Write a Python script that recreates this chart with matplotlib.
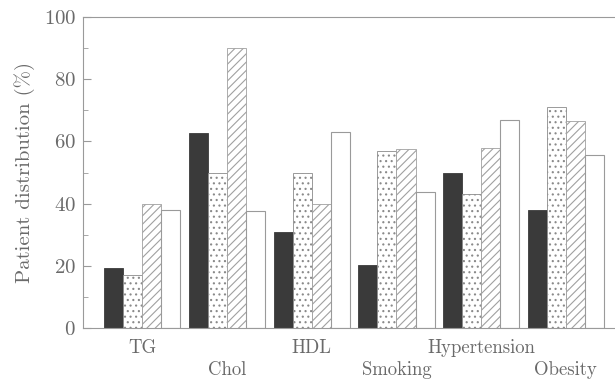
import numpy as np
import matplotlib.pyplot as plt
from matplotlib.ticker import MultipleLocator

plt.rcParams['font.family'] = ['cmr10', 'DejaVu Serif']
plt.rcParams['axes.formatter.use_mathtext'] = True
plt.rcParams['hatch.linewidth'] = 0.8

# categories and series values (% of patients)
categories = ['TG', 'Chol', 'HDL', 'Smoking', 'Hypertension', 'Obesity']
solid = [19.3, 62.8, 31, 20.3, 50, 38]
dotted = [17, 50, 50, 57, 43, 71]
hatched = [40, 90, 40, 57.7, 58, 66.5]
empty = [38, 37.6, 63, 43.8, 67, 55.6]

text_col = '#6a6a6a'
line_col = '#9a9a9a'

fig = plt.figure(figsize=(6.15, 3.8), dpi=100)
ax = fig.add_axes([0.135, 0.137, 0.865, 0.818])

x = np.arange(len(categories))
w = 0.225
offs = np.array([-1.5, -0.5, 0.5, 1.5]) * w

ax.bar(x + offs[0], solid, w, color='#3a3a3a', edgecolor='#3a3a3a', linewidth=0.6)
ax.bar(x + offs[1], dotted, w, color='white', edgecolor='#8a8a8a', hatch='...', linewidth=0.6)
ax.bar(x + offs[2], hatched, w, color='white', edgecolor='#a0a0a0', hatch='////', linewidth=0.6)
ax.bar(x + offs[3], empty, w, color='white', edgecolor='#9a9a9a', linewidth=0.8)

ax.set_xlim(-0.70, 5.58)
ax.set_ylim(0, 100)

for s in ['left', 'top', 'bottom']:
    ax.spines[s].set_color(line_col)
    ax.spines[s].set_linewidth(0.8)
ax.spines['right'].set_visible(False)

ax.yaxis.set_major_locator(MultipleLocator(20))
ax.yaxis.set_minor_locator(MultipleLocator(10))
ax.tick_params(axis='y', which='major', direction='in', length=6, width=0.8,
               color=line_col, labelcolor=text_col, labelsize=15, pad=5)
ax.tick_params(axis='y', which='minor', direction='in', length=3.5, width=0.6,
               color=line_col)

# staggered category labels
ax.set_xticks(x)
ax.set_xticklabels([])
ax.tick_params(axis='x', length=0)
for i, c in enumerate(categories):
    yy = -0.035 if i % 2 == 0 else -0.105
    ax.text(i, yy, c, transform=ax.get_xaxis_transform(), ha='center', va='top',
            fontsize=13.5, color=text_col)

ax.set_ylabel('Patient distribution (%)', fontsize=15, color=text_col, labelpad=6)

fig.savefig('out.png', dpi=100)
